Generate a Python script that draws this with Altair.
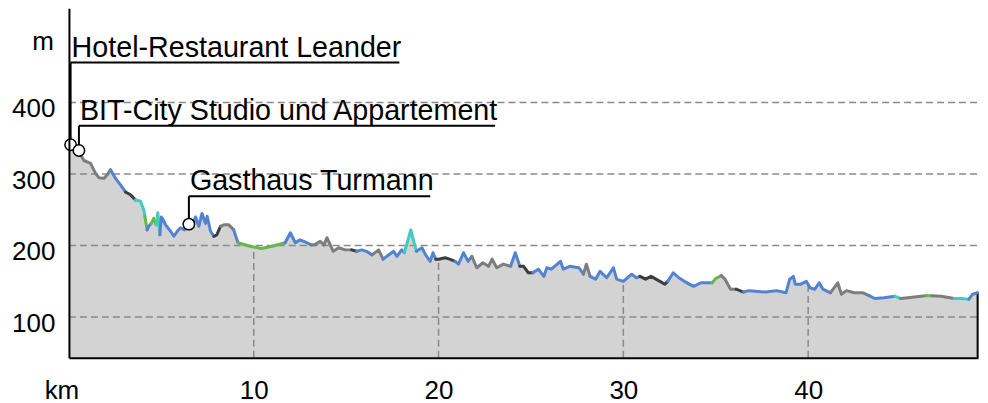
import altair as alt
import pandas as pd
import numpy as np

# ---------------- data ----------------
km = [0.0, 0.5, 0.81, 1.17, 1.44, 1.62, 1.89, 2.07, 2.25, 2.52, 2.79, 3.06, 3.33, 3.6, 3.87,
      4.05, 4.11, 4.23, 4.32, 4.45, 4.59, 4.72, 4.81, 4.92, 5.0, 5.1, 5.23, 5.5, 5.68, 5.86,
      6.04, 6.25, 6.43, 6.67, 6.85, 7.03, 7.2, 7.39, 7.48, 7.66, 7.84, 8.0, 8.2, 8.38, 8.65,
      8.92, 9.0, 9.15, 9.8, 10.4, 11.0, 11.7, 11.98, 12.25, 12.5, 12.88, 13.1, 13.3, 13.6,
      13.8, 13.96, 14.3, 14.6, 14.95, 15.3, 15.57, 15.85, 16.1, 16.4, 16.76, 17.0, 17.2,
      17.57, 17.75, 18.0, 18.15, 18.5, 18.8, 19.1, 19.3, 19.55, 19.7, 19.85, 20.0, 20.36,
      20.6, 20.9, 21.08, 21.35, 21.6, 21.8, 22.07, 22.4, 22.7, 22.9, 23.15, 23.5, 23.9,
      24.15, 24.4, 24.6, 24.86, 25.1, 25.4, 25.7, 25.86, 26.1, 26.6, 26.75, 27.1, 27.6,
      27.84, 28.0, 28.2, 28.5, 28.74, 29.1, 29.46, 29.64, 30.0, 30.45, 30.7, 30.9, 31.2,
      31.5, 31.98, 32.25, 32.4, 32.7, 33.0, 33.3, 33.8, 34.2, 34.8, 35.0, 35.3, 35.5, 35.8,
      36.1, 36.5, 36.8, 37.7, 38.3, 38.8, 39.0, 39.2, 39.3, 39.6, 39.9, 40.1, 40.36, 40.6,
      40.8, 41.2, 41.4, 41.6, 41.8, 42.07, 42.5, 42.97, 43.3, 43.6, 44.1, 44.7, 45.0, 45.4,
      46.1, 46.4, 46.7, 47.2, 47.9, 48.25, 48.7, 48.9, 49.17]
elev = [341, 333, 319, 315, 301, 295, 294, 299, 306, 294, 285, 275, 271, 264, 262,
        250, 241, 222, 227, 231, 238, 229, 246, 215, 240, 236, 229, 220, 213, 220,
        225, 222, 230, 229, 240, 227, 245, 231, 241, 220, 213, 215, 227, 229, 229,
        222, 215, 204, 199, 196, 199, 204, 218, 204, 208, 204, 201, 201, 206,
        201, 211, 192, 197, 194, 194, 192, 194, 192, 187, 194, 181, 185,
        192, 185, 194, 190, 222, 192, 197, 187, 178, 190, 181, 181, 183,
        181, 178, 174, 190, 178, 185, 169, 176, 171, 181, 169, 174, 171,
        190, 171, 171, 162, 162, 167, 157, 169, 167, 178, 167, 171, 169,
        160, 174, 157, 153, 164, 155, 169, 153, 150, 160, 155, 157, 153,
        157, 150, 146, 150, 162, 155, 150, 143, 148, 148, 154, 158, 153, 139,
        139, 135, 137, 135, 137, 134, 153, 157, 146, 146, 150, 141, 139, 148,
        139, 134, 141, 148, 132, 137, 134, 134, 130, 126, 127, 129, 126, 127,
        129, 130, 130, 129, 126, 126, 125, 132, 134]
# surface of the stretch that starts at each point
surface = ["U", "U", "U", "U", "U", "U", "U", "U", "A", "A", "A", "D", "D", "C", "C",
           "C", "N", "A", "A", "N", "N", "C", "C", "A", "A", "A", "A", "A", "A", "A",
           "A", "A", "A", "A", "A", "A", "A", "A", "A", "A", "D", "D", "U", "U", "U",
           "A", "A", "N", "N", "N", "N", "A", "A", "A", "A", "A", "U", "U", "U",
           "U", "U", "U", "U", "U", "D", "A", "A", "A", "U", "U", "A", "A",
           "A", "A", "A", "C", "C", "A", "A", "A", "A", "A", "D", "D", "D",
           "D", "A", "A", "A", "A", "U", "U", "U", "U", "U", "U", "U", "A",
           "A", "D", "D", "D", "A", "A", "A", "A", "A", "A", "A", "A", "A",
           "U", "U", "A", "A", "A", "A", "A", "A", "A", "A", "A", "D", "D",
           "D", "D", "D", "A", "A", "A", "A", "A", "A", "N", "N", "U", "U", "U",
           "D", "A", "A", "A", "A", "A", "A", "A", "A", "A", "A", "A", "A", "A",
           "A", "U", "U", "U", "U", "U", "U", "U", "A", "A", "A", "C", "U", "U",
           "U", "N", "U", "U", "C", "C", "A", "A", "A"]
surface_codes = ["U", "A", "D", "C", "N"]
surface_colors = ["#7d7d7d", "#5283d1", "#3d3d3d", "#44cbc1", "#63b847"]

poi_names = ["Hotel-Restaurant Leander", "BIT-City Studio und Appartement", "Gasthaus Turmann"]
poi_km = [0.09, 0.54, 6.49]
poi_elev = [341, 333, 230]
poi_label_elev = [456, 367.5, 269]
poi_label_end_km = [17.88, 23.06, 19.55]

y_ticks = [100, 200, 300, 400]
x_ticks = [10, 20, 30, 40]

X_MAX = 49.19
Y_MIN, Y_MAX = 43, 532
W, H = 910, 350
FONT = "Liberation Sans"

# ---------------- tables ----------------
profile = pd.DataFrame({"km": km, "elev": elev})

rows = []
n_seg = len(km) - 1
j = 0
run = 0
while j < n_seg:
    k = j
    while k + 1 < n_seg and surface[k + 1] == surface[j]:
        k += 1
    for p in range(j, k + 2):
        rows.append({"km": km[p], "elev": elev[p], "run": run, "surf": surface[j], "ord": p})
    run += 1
    j = k + 1
segs = pd.DataFrame(rows)

hgrid = pd.DataFrame({"y": y_ticks, "x0": 0.0, "x1": X_MAX})
vgrid = pd.DataFrame({"x": x_ticks, "y0": Y_MIN,
                      "y1": np.interp(x_ticks, km, elev)})
endline = pd.DataFrame({"x": [km[-1]], "y0": [Y_MIN], "y1": [elev[-1]]})
pois = pd.DataFrame({"name": poi_names, "km": poi_km, "elev": poi_elev,
                     "lab": poi_label_elev, "end": poi_label_end_km})

xs = alt.Scale(domain=[0, X_MAX], nice=False, zero=False)
ys = alt.Scale(domain=[Y_MIN, Y_MAX], nice=False, zero=False)

x_axis = alt.Axis(values=x_ticks, grid=False, ticks=False, tickSize=0, domainColor="black",
                  domainWidth=2, labelFont=FONT, labelFontSize=26, labelColor="black",
                  labelBaseline="alphabetic", labelPadding=41, title=None, zindex=1)
y_axis = alt.Axis(values=y_ticks, grid=False, ticks=False, tickSize=0, domainColor="black",
                  domainWidth=2, labelFont=FONT, labelFontSize=26, labelColor="black",
                  labelPadding=14, labelOffset=6, title=None, zindex=1)


def X(field):
    return alt.X(field, scale=xs, axis=x_axis)


def Y(field):
    return alt.Y(field, scale=ys, axis=y_axis)


area = alt.Chart(profile).mark_area(color="#d3d3d3", opacity=1).encode(
    x=X("km:Q"),
    y=Y("elev:Q"),
    y2=alt.datum(Y_MIN),
)

grid_style = dict(color="#8a8a8a", strokeWidth=1.5, strokeDash=[7, 4])
hg = alt.Chart(hgrid).mark_rule(**grid_style).encode(
    x=X("x0:Q"), x2="x1:Q", y=Y("y:Q"))
vg = alt.Chart(vgrid).mark_rule(**grid_style).encode(
    x=X("x:Q"), y=Y("y0:Q"), y2="y1:Q")
endl = alt.Chart(endline).mark_rule(color="black", strokeWidth=2).encode(
    x=X("x:Q"), y=Y("y0:Q"), y2="y1:Q")

line = alt.Chart(segs).mark_line(strokeWidth=3, strokeJoin="round", strokeCap="round").encode(
    x=X("km:Q"),
    y=Y("elev:Q"),
    detail="run:N",
    order="ord:Q",
    color=alt.Color("surf:N", scale=alt.Scale(domain=surface_codes, range=surface_colors),
                    legend=None),
)

leader = alt.Chart(pois).mark_rule(color="black", strokeWidth=2).encode(
    x=X("km:Q"), y=Y("elev:Q"), y2="lab:Q")
underline = alt.Chart(pois).mark_rule(color="black", strokeWidth=2).encode(
    x=X("km:Q"), x2="end:Q", y=Y("lab:Q"))
labels = alt.Chart(pois).mark_text(align="left", baseline="alphabetic", dx=1, dy=-6,
                                   font=FONT, fontSize=28.7, color="black").encode(
    x=X("km:Q"), y=Y("lab:Q"), text="name:N")
dots = alt.Chart(pois).mark_point(shape="circle", filled=True, fill="white", stroke="black",
                                  strokeWidth=1.5, size=130, opacity=1).encode(
    x=X("km:Q"), y=Y("elev:Q"))

unit_df = pd.DataFrame({"t": ["km"]})
km_lab = alt.Chart(unit_df).mark_text(align="center", baseline="alphabetic", font=FONT,
                                      fontSize=26, color="black").encode(
    x=alt.value(-7), y=alt.value(H + 41), text="t:N")
m_df = pd.DataFrame({"t": ["m"]})
m_lab = alt.Chart(m_df).mark_text(align="right", baseline="alphabetic", font=FONT,
                                  fontSize=26, color="black").encode(
    x=alt.value(-15), y=alt.value(42), text="t:N")

chart = alt.layer(area, vg, hg, endl, line, leader, underline, labels, dots, km_lab, m_lab).properties(
    width=W, height=H,
    autosize=alt.AutoSizeParams(type="none"),
    padding={"left": 61, "top": 0, "right": 2, "bottom": 45},
    background="white",
).configure_view(strokeWidth=0, stroke="transparent")

chart.save("out.html", embed_options={"renderer": "svg", "actions": False})
